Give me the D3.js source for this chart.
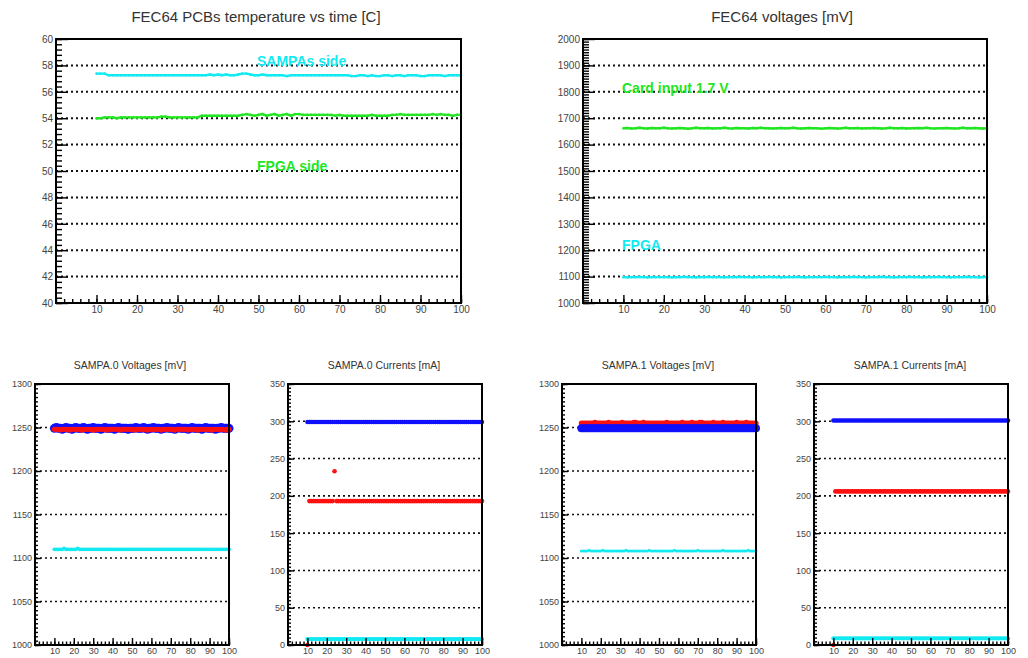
<!DOCTYPE html>
<html>
<head>
<meta charset="utf-8">
<script src="https://cdn.jsdelivr.net/npm/d3@7"></script>
<style>
  body { margin: 0; background: #fff; }
  text { font-family: "Liberation Sans", Arial, sans-serif; }
</style>
</head>
<body>
<div id="chart"></div>
<script>
// time axis (minutes), one reading per minute
var timeTop = d3.range(10, 101, 1);
var timeBottom = d3.range(10, 101, 1);

// tick labels
var xTicks = [10, 20, 30, 40, 50, 60, 70, 80, 90, 100];
var tempTicks = [40, 42, 44, 46, 48, 50, 52, 54, 56, 58, 60];
var fecVoltTicks = [1000, 1100, 1200, 1300, 1400, 1500, 1600, 1700, 1800, 1900, 2000];
var sampaVoltTicks = [1000, 1050, 1100, 1150, 1200, 1250, 1300];
var sampaCurTicks = [0, 50, 100, 150, 200, 250, 300, 350];

// FEC64 temperatures [C]
var tempSampa = [57.38,57.38,57.38,57.25,57.25,57.25,57.25,57.25,57.25,57.25,
  57.25,57.25,57.25,57.25,57.25,57.25,57.25,57.25,57.25,57.25,
  57.25,57.25,57.25,57.25,57.25,57.25,57.25,57.25,57.31,57.25,
  57.31,57.25,57.31,57.25,57.25,57.31,57.38,57.38,57.31,57.25,
  57.25,57.31,57.25,57.25,57.25,57.25,57.25,57.19,57.25,57.25,
  57.25,57.25,57.25,57.25,57.25,57.25,57.25,57.25,57.25,57.25,
  57.25,57.25,57.25,57.19,57.19,57.25,57.25,57.19,57.25,57.19,
  57.19,57.25,57.25,57.19,57.25,57.25,57.19,57.25,57.25,57.25,
  57.19,57.19,57.25,57.25,57.25,57.25,57.19,57.25,57.25,57.25,
  57.25];
var tempFpga = [54.00,54.00,54.06,54.06,54.06,54.00,54.06,54.06,54.06,54.06,
  54.06,54.06,54.06,54.06,54.06,54.06,54.12,54.12,54.06,54.06,
  54.06,54.06,54.06,54.06,54.06,54.06,54.19,54.19,54.19,54.19,
  54.19,54.19,54.19,54.19,54.19,54.19,54.25,54.31,54.25,54.19,
  54.25,54.31,54.19,54.25,54.31,54.19,54.25,54.31,54.19,54.31,
  54.31,54.25,54.25,54.25,54.25,54.25,54.25,54.25,54.25,54.19,
  54.25,54.19,54.19,54.19,54.19,54.19,54.19,54.19,54.25,54.19,
  54.19,54.19,54.19,54.25,54.25,54.31,54.25,54.25,54.25,54.25,
  54.25,54.25,54.25,54.31,54.25,54.31,54.25,54.25,54.19,54.25,
  54.25];

// FEC64 voltages [mV]
var voltCard = [1662,1663,1661,1662,1664,1662,1661,1663,1662,1662,
  1664,1662,1661,1662,1663,1662,1660,1662,1664,1662,
  1662,1663,1661,1662,1662,1664,1662,1661,1663,1662,
  1662,1661,1663,1662,1664,1662,1662,1661,1662,1663,
  1662,1662,1664,1662,1661,1662,1663,1662,1662,1660,
  1662,1663,1662,1661,1662,1664,1662,1662,1663,1661,
  1662,1662,1663,1662,1661,1662,1664,1662,1662,1663,
  1661,1662,1662,1663,1662,1664,1662,1661,1662,1662,
  1663,1662,1661,1662,1664,1662,1662,1663,1662,1661,
  1662];
var voltFpga = [1098,1097,1098,1098,1099,1098,1097,1098,1098,1098,
  1098,1098,1097,1098,1098,1099,1098,1098,1097,1098,
  1098,1099,1098,1098,1098,1097,1098,1098,1098,1099,
  1098,1098,1097,1098,1098,1098,1099,1098,1098,1097,
  1098,1098,1098,1099,1098,1097,1098,1098,1098,1098,
  1099,1098,1098,1097,1098,1098,1098,1099,1098,1098,
  1097,1098,1098,1098,1099,1098,1098,1097,1098,1098,
  1098,1099,1098,1098,1097,1098,1098,1098,1099,1098,
  1098,1097,1098,1098,1098,1099,1098,1098,1097,1098,
  1098];

// SAMPA.0
var s0VoltBlue = [1249,1250,1249,1249,1248,1249,1250,1249,1249,1248,
  1249,1250,1249,1249,1249,1250,1249,1248,1249,1249,
  1250,1249,1249,1249,1248,1249,1250,1249,1249,1249,
  1249,1248,1249,1250,1249,1249,1249,1249,1248,1249,
  1249,1249,1250,1249,1249,1249,1250,1249,1248,1249,
  1249,1250,1249,1249,1249,1248,1249,1249,1250,1249,
  1249,1249,1248,1249,1250,1249,1249,1249,1249,1248,
  1249,1250,1249,1249,1249,1249,1248,1249,1250,1249,
  1249,1249,1249,1248,1249,1249,1250,1249,1249,1249,
  1249];
var s0VoltRed = [1248,1248,1248,1247,1248,1248,1248,1248,1247,1248,
  1248,1248,1248,1248,1247,1248,1248,1248,1248,1248,
  1247,1248,1248,1248,1248,1248,1248,1247,1248,1248,
  1248,1248,1248,1248,1247,1248,1248,1248,1248,1248,
  1248,1247,1248,1248,1248,1248,1248,1248,1247,1248,
  1248,1248,1248,1248,1248,1247,1248,1248,1248,1248,
  1248,1248,1247,1248,1248,1248,1248,1248,1248,1247,
  1248,1248,1248,1248,1247,1248,1248,1248,1248,1248,
  1248,1247,1248,1248,1248,1248,1248,1248,1247,1248,
  1248];
var s0VoltCyan = [1110,1110,1110,1110,1110,1111,1110,1110,1110,1110,
  1110,1110,1111,1110,1110,1110,1110,1110,1110,1110,
  1110,1110,1110,1110,1110,1110,1110,1110,1110,1110,
  1110,1110,1110,1110,1110,1110,1110,1110,1110,1110,
  1110,1110,1110,1110,1110,1110,1110,1110,1110,1110,
  1110,1110,1110,1110,1110,1110,1110,1110,1110,1110,
  1110,1110,1110,1110,1110,1110,1110,1110,1110,1110,
  1110,1110,1110,1110,1110,1110,1110,1110,1110,1110,
  1110,1110,1110,1110,1110,1110,1110,1110,1110,1110,
  1110];
var s0CurBlue = [299,299,299,299,299,299,299,299,299,299,
  299,299,299,299,299,299,299,299,299,299,
  299,299,299,299,299,299,299,299,299,299,
  299,299,299,299,299,299,299,299,299,299,
  299,299,299,299,299,299,299,299,299,299,
  299,299,299,299,299,299,299,299,299,299,
  299,299,299,299,299,299,299,299,299,299,
  299,299,299,299,299,299,299,299,299,299,
  299,299,299,299,299,299,299,299,299,299,
  299];
var s0CurRed = [0,193,193,193,193,193,193,193,193,193,
  193,193,193,193,233,193,193,193,193,193,
  193,193,193,193,193,193,193,193,193,193,
  193,193,193,193,193,193,193,193,193,193,
  193,193,193,193,193,193,193,193,193,193,
  193,193,193,193,193,193,193,193,193,193,
  193,193,193,193,193,193,193,193,193,193,
  193,193,193,193,193,193,193,193,193,193,
  193,193,193,193,193,193,193,193,193,193,
  193];
var s0CurCyan = [8,8,8,8,8,8,8,8,8,8,
  8,8,8,8,8,8,8,8,8,8,
  8,8,8,8,8,8,8,8,8,8,
  8,8,8,8,8,8,8,8,8,8,
  8,8,8,8,8,8,8,8,8,8,
  8,8,8,8,8,8,8,8,8,8,
  8,8,8,8,8,8,8,8,8,8,
  8,8,8,8,8,8,8,8,8,8,
  8,8,8,8,8,8,8,8,8,8,
  8];

// SAMPA.1
var s1VoltRed = [1255,1255,1255,1255,1255,1255,1255,1256,1255,1255,
  1255,1255,1255,1255,1256,1255,1255,1255,1255,1255,
  1255,1256,1255,1255,1255,1255,1255,1256,1256,1255,
  1255,1255,1256,1255,1255,1255,1255,1255,1255,1255,
  1255,1255,1255,1255,1256,1255,1255,1255,1255,1255,
  1255,1255,1256,1255,1255,1255,1255,1256,1255,1255,
  1255,1256,1256,1255,1255,1255,1255,1255,1256,1255,
  1255,1255,1255,1256,1255,1255,1255,1255,1255,1255,
  1256,1255,1255,1255,1255,1256,1255,1255,1255,1255,
  1255];
var s1VoltBlue = [1249,1249,1249,1249,1249,1249,1249,1249,1249,1249,
  1249,1249,1249,1249,1249,1249,1249,1249,1249,1249,
  1249,1249,1249,1249,1249,1249,1249,1249,1249,1249,
  1249,1249,1249,1249,1249,1249,1249,1249,1249,1249,
  1249,1249,1249,1249,1249,1249,1249,1249,1249,1249,
  1249,1249,1249,1249,1249,1249,1249,1249,1249,1249,
  1249,1249,1249,1249,1249,1249,1249,1249,1249,1249,
  1249,1249,1249,1249,1249,1249,1249,1249,1249,1249,
  1249,1249,1249,1249,1249,1249,1249,1249,1249,1249,
  1249];
var s1VoltCyan = [1108,1108,1108,1108,1109,1108,1108,1108,1108,1108,
  1108,1109,1108,1108,1108,1108,1108,1108,1108,1108,
  1108,1108,1108,1109,1108,1108,1108,1108,1108,1108,
  1108,1108,1108,1108,1108,1109,1108,1108,1108,1108,
  1108,1108,1108,1108,1108,1108,1108,1108,1109,1108,
  1108,1108,1108,1108,1108,1108,1108,1108,1108,1108,
  1109,1108,1108,1108,1108,1108,1108,1108,1108,1108,
  1108,1108,1108,1109,1108,1108,1108,1108,1108,1108,
  1108,1108,1108,1108,1108,1108,1109,1108,1108,1108,
  1108];
var s1CurBlue = [301,301,301,301,301,301,301,301,301,301,
  301,301,301,301,301,301,301,301,301,301,
  301,301,301,301,301,301,301,301,301,301,
  301,301,301,301,301,301,301,301,301,301,
  301,301,301,301,301,301,301,301,301,301,
  301,301,301,301,301,301,301,301,301,301,
  301,301,301,301,301,301,301,301,301,301,
  301,301,301,301,301,301,301,301,301,301,
  301,301,301,301,301,301,301,301,301,301,
  301];
var s1CurRed = [0,206,206,206,206,206,206,206,206,206,
  206,206,206,206,206,206,206,206,206,206,
  206,206,206,206,206,206,206,206,206,206,
  206,206,206,206,206,206,206,206,206,206,
  206,206,206,206,206,206,206,206,206,206,
  206,206,206,206,206,206,206,206,206,206,
  206,206,206,206,206,206,206,206,206,206,
  206,206,206,206,206,206,206,206,206,206,
  206,206,206,206,206,206,206,206,206,206,
  206];
var s1CurCyan = [9,9,9,9,9,9,9,9,9,9,
  9,9,9,9,9,9,9,9,9,9,
  9,9,9,9,9,9,9,9,9,9,
  9,9,9,9,9,9,9,9,9,9,
  9,9,9,9,9,9,9,9,9,9,
  9,9,9,9,9,9,9,9,9,9,
  9,9,9,9,9,9,9,9,9,9,
  9,9,9,9,9,9,9,9,9,9,
  9,9,9,9,9,9,9,9,9,9,
  9];

var CYAN = "#12eaf2", GREEN = "#22e622", BLUE = "#1010ff", RED = "#ff1010";

var panels = [
  { title: "FEC64 PCBs temperature vs time [C]", titleX: 256, titleY: 22, titleSize: 15,
    left: 56, right: 461, top: 39, bottom: 303, yDomain: [40, 60], yTicks: tempTicks, yMinorStep: 0.4,
    xMinorStep: 2, yLen: 12, xLen: 8, labelSize: 10, gridW: 2, gridDash: "2,3",
    series: [
      { t: timeTop, v: tempSampa, color: CYAN, type: "line" },
      { t: timeTop, v: tempFpga, color: GREEN, type: "line" }
    ],
    notes: [
      { text: "SAMPAs side", x: 257, y: 66, color: CYAN },
      { text: "FPGA side", x: 257, y: 171, color: GREEN }
    ] },
  { title: "FEC64 voltages [mV]", titleX: 782, titleY: 22, titleSize: 15,
    left: 583, right: 987, top: 39, bottom: 303, yDomain: [1000, 2000], yTicks: fecVoltTicks, yMinorStep: 10,
    xMinorStep: 2, yLen: 12, xLen: 8, labelSize: 10, gridW: 2, gridDash: "2,3",
    series: [
      { t: timeTop, v: voltCard, color: GREEN, type: "line" },
      { t: timeTop, v: voltFpga, color: CYAN, type: "line" }
    ],
    notes: [
      { text: "Card input 1.7 V", x: 622, y: 93, color: GREEN },
      { text: "FPGA", x: 622, y: 250, color: CYAN }
    ] },
  { title: "SAMPA.0 Voltages [mV]", titleX: 130, titleY: 369, titleSize: 10.5,
    left: 35, right: 229, top: 384, bottom: 645, yDomain: [1000, 1300], yTicks: sampaVoltTicks, yMinorStep: 5,
    xMinorStep: 2, yLen: 6, xLen: 7, labelSize: 9, gridW: 1.6, gridDash: "2,3",
    series: [
      { t: timeBottom, v: s0VoltBlue, color: BLUE, type: "dots", r: 4.5 },
      { t: timeBottom, v: s0VoltRed, color: RED, type: "dots", r: 2.6 },
      { t: timeBottom, v: s0VoltCyan, color: CYAN, type: "dots", r: 1.9 }
    ], notes: [] },
  { title: "SAMPA.0 Currents [mA]", titleX: 384, titleY: 369, titleSize: 10.5,
    left: 288, right: 482, top: 384, bottom: 645, yDomain: [0, 350], yTicks: sampaCurTicks, yMinorStep: 5,
    xMinorStep: 2, yLen: 6, xLen: 7, labelSize: 9, gridW: 1.6, gridDash: "2,3",
    series: [
      { t: timeBottom, v: s0CurBlue, color: BLUE, type: "dots", r: 2.2 },
      { t: timeBottom, v: s0CurRed, color: RED, type: "dots", r: 2.3 },
      { t: timeBottom, v: s0CurCyan, color: CYAN, type: "dots", r: 2.1 }
    ], notes: [] },
  { title: "SAMPA.1 Voltages [mV]", titleX: 658, titleY: 369, titleSize: 10.5,
    left: 562, right: 756, top: 384, bottom: 645, yDomain: [1000, 1300], yTicks: sampaVoltTicks, yMinorStep: 5,
    xMinorStep: 2, yLen: 6, xLen: 7, labelSize: 9, gridW: 1.6, gridDash: "2,3",
    series: [
      { t: timeBottom, v: s1VoltRed, color: RED, type: "dots", r: 2.6 },
      { t: timeBottom, v: s1VoltBlue, color: BLUE, type: "dots", r: 4 },
      { t: timeBottom, v: s1VoltCyan, color: CYAN, type: "dots", r: 1.5 }
    ], notes: [] },
  { title: "SAMPA.1 Currents [mA]", titleX: 910, titleY: 369, titleSize: 10.5,
    left: 814, right: 1008, top: 384, bottom: 645, yDomain: [0, 350], yTicks: sampaCurTicks, yMinorStep: 5,
    xMinorStep: 2, yLen: 6, xLen: 7, labelSize: 9, gridW: 1.6, gridDash: "2,3",
    series: [
      { t: timeBottom, v: s1CurBlue, color: BLUE, type: "dots", r: 2.3 },
      { t: timeBottom, v: s1CurRed, color: RED, type: "dots", r: 2.3 },
      { t: timeBottom, v: s1CurCyan, color: CYAN, type: "dots", r: 2.1 }
    ], notes: [] }
];

var svg = d3.select("#chart").append("svg")
            .attr("width", 1028)
            .attr("height", 658);

function drawPanel(p) {
  var x = d3.scaleLinear().domain([0, 100]).range([p.left, p.right]);
  var y = d3.scaleLinear().domain(p.yDomain).range([p.bottom, p.top]);
  var g = svg.append("g");

  g.append("text")
   .attr("x", p.titleX).attr("y", p.titleY)
   .attr("text-anchor", "middle")
   .attr("font-size", p.titleSize + "px")
   .attr("fill", "#333")
   .text(p.title);

  // horizontal dotted grid
  g.selectAll("line.grid").data(p.yTicks.slice(1, -1)).enter().append("line")
   .attr("class", "grid")
   .attr("x1", p.left).attr("x2", p.right)
   .attr("y1", d => y(d)).attr("y2", d => y(d))
   .attr("stroke", "#111")
   .attr("stroke-width", p.gridW)
   .attr("stroke-dasharray", p.gridDash);

  p.series.forEach(s => {
    var pts = s.t.map((t, i) => [t, s.v[i]]);
    if (s.type === "line") {
      g.append("path")
       .attr("d", d3.line().x(d => x(d[0])).y(d => y(d[1]))(pts))
       .attr("fill", "none")
       .attr("stroke", s.color)
       .attr("stroke-width", 2.4);
      g.append("g").selectAll("circle").data(pts).enter().append("circle")
       .attr("cx", d => x(d[0])).attr("cy", d => y(d[1]))
       .attr("r", 1.3)
       .attr("fill", s.color);
    } else {
      g.append("g").selectAll("circle").data(pts).enter().append("circle")
       .attr("cx", d => x(d[0])).attr("cy", d => y(d[1]))
       .attr("r", s.r)
       .attr("fill", s.color);
    }
  });

  // ticks inside the frame, ROOT style
  var yMinor = d3.range(p.yDomain[0], p.yDomain[1] + 1e-6, p.yMinorStep);
  var xMinor = d3.range(0, 100 + 1e-6, p.xMinorStep);

  g.append("g").attr("transform", `translate(${p.left},0)`)
   .call(d3.axisLeft(y).tickValues(p.yTicks).tickSize(-p.yLen).tickPadding(3).tickFormat(d3.format("d")));
  g.append("g").attr("transform", `translate(${p.left},0)`)
   .call(d3.axisLeft(y).tickValues(yMinor).tickSize(-p.yLen / 2).tickFormat(""));

  g.append("g").attr("transform", `translate(0,${p.bottom})`)
   .call(d3.axisBottom(x).tickValues(xTicks).tickSize(-p.xLen).tickPadding(3).tickFormat(d3.format("d")));
  g.append("g").attr("transform", `translate(0,${p.bottom})`)
   .call(d3.axisBottom(x).tickValues(xMinor).tickSize(-p.xLen / 2).tickFormat(""));

  g.selectAll(".domain").remove();
  g.selectAll(".tick line").attr("stroke", "#000").attr("stroke-width", 1.4);
  g.selectAll(".tick text")
   .attr("font-size", p.labelSize + "px")
   .attr("fill", "#444")
   .style("font-family", "'Liberation Sans', Arial, sans-serif");

  g.append("rect")
   .attr("x", p.left).attr("y", p.top)
   .attr("width", p.right - p.left).attr("height", p.bottom - p.top)
   .attr("fill", "none")
   .attr("stroke", "#000")
   .attr("stroke-width", 2);

  g.selectAll("text.note").data(p.notes).enter().append("text")
   .attr("class", "note")
   .attr("x", d => d.x).attr("y", d => d.y)
   .attr("font-size", "14px")
   .attr("font-weight", "bold")
   .attr("fill", d => d.color)
   .text(d => d.text);
}

panels.forEach(drawPanel);
</script>
</body>
</html>
